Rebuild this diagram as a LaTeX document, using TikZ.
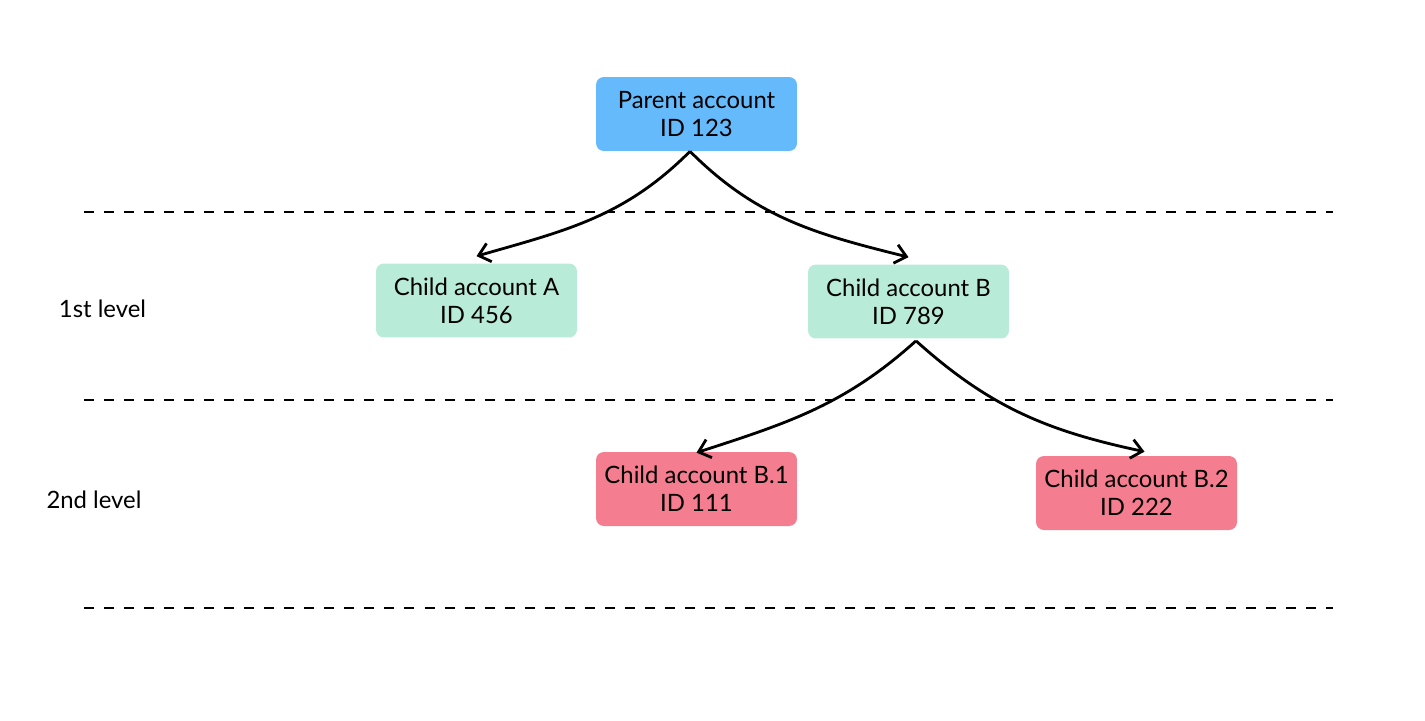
\documentclass[tikz,border=0pt]{standalone}
\usepackage{fontspec}
\setmainfont{Lato}
\usetikzlibrary{positioning,arrows.meta,calc}

\definecolor{parentblue}{RGB}{100,186,251}
\definecolor{childmint}{RGB}{184,235,216}
\definecolor{childpink}{RGB}{244,125,143}

\begin{document}
\begin{tikzpicture}[
        x=0.02cm, y=-0.02cm,
        font=\fontsize{13.6}{16}\selectfont,
        link/.style={-{Straight Barb[length=2.2mm, width=3.8mm, line width=1.6pt]}, line width=1.6pt, draw=black},
        levelline/.style={line width=1.1pt, dash pattern=on 5.7pt off 5.7pt},
        account/.style={
            rounded corners=4.5pt,
            align=center,
            minimum width=4.02cm,
            minimum height=1.48cm,
            inner sep=2pt
        }
    ]

    \useasboundingbox (0,0) rectangle (1425,720);

    % Level separators
    \coordinate (sepAw) at (84,212);
    \coordinate (sepAe) at (1333,212);
    \coordinate (sepBw) at (84,400);
    \coordinate (sepBe) at (1333,400);
    \coordinate (sepCw) at (84,608);
    \coordinate (sepCe) at (1333,608);
    \draw[levelline] (sepAw) -- (sepAe);
    \draw[levelline] (sepBw) -- (sepBe);
    \draw[levelline] (sepCw) -- (sepCe);

    % Level labels
    \node (levelone) at (102.5,309) {1st level};
    \node (leveltwo) at (94,500) {2nd level};

    % Root account
    \node[account, fill=parentblue] (parent) at (696.5,114) {Parent account\\ID 123};

    % 1st level accounts
    \node[account, fill=childmint] (childA) at (476.5,300.5) {Child account A\\ID 456};
    \node[account, fill=childmint] (childB) at (908.5,301.5) {Child account B\\ID 789};

    % 2nd level accounts
    \node[account, fill=childpink] (childBa) at (696.5,489) {Child account B.1\\ID 111};
    \node[account, fill=childpink] (childBb) at (1136.5,493) {Child account B.2\\ID 222};

    % Links
    \draw[link] ($(parent.south)+(-6.5,0)$) to[out=-135, in=16] ($(childA.north)+(0,-7)$);
    \draw[link] ($(parent.south)+(-6.5,0)$) to[out=-45, in=166] ($(childB.north)+(0,-7)$);
    \draw[link] ($(childB.south)+(7.5,2)$) to[out=-138, in=18] ($(childBa.north)+(0,1)$);
    \draw[link] ($(childB.south)+(7.5,2)$) to[out=-42, in=168] ($(childBb.north)+(8,-4)$);

\end{tikzpicture}
\end{document}
